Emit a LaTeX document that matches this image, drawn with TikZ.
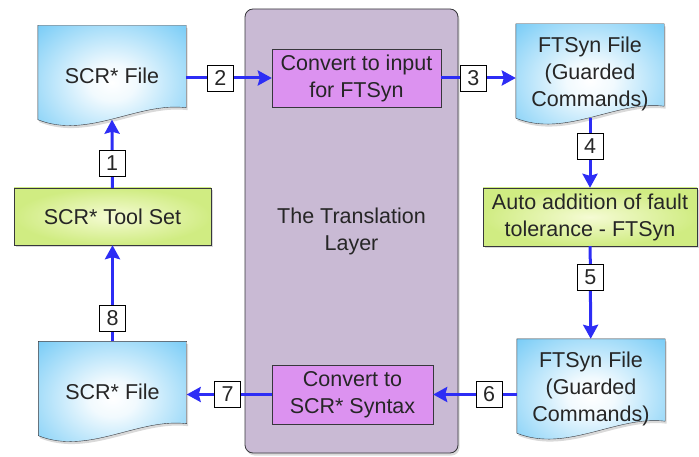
\documentclass[tikz,border=0pt]{standalone}
\usepackage{fontspec}
\setmainfont{Liberation Sans}
\usetikzlibrary{arrows.meta,calc,shadows}

\definecolor{docblue}{RGB}{118,203,246}
\definecolor{toolgreen}{RGB}{208,236,130}
\definecolor{toolpale}{RGB}{245,251,212}
\definecolor{layergrey}{RGB}{201,186,212}
\definecolor{convviolet}{RGB}{220,146,240}
\definecolor{flowblue}{RGB}{45,45,245}
\definecolor{rim}{RGB}{55,55,60}

\pgfdeclarelayer{background}
\pgfsetlayers{background,main}

% white centre fading out to blue at the sheet edges
\pgfdeclareradialshading{docglow}{\pgfpoint{0bp}{0bp}}{color(0bp)=(white); color(8bp)=(white!90!docblue); color(36bp)=(docblue); color(70bp)=(docblue)}

\tikzstyle{big text} = [font=\fontsize{21.5}{27}\selectfont, text=black!85]
\tikzstyle{soft shadow} = [drop shadow={opacity=0.3, shadow xshift=1.5pt, shadow yshift=-2.5pt}]
\tikzstyle{translayer} = [draw=rim, thick, fill=layergrey, rounded corners=8pt, minimum width=213pt, minimum height=444pt, align=center, big text, soft shadow]
\tikzstyle{convert} = [draw=rim, fill=convviolet, inner sep=0pt, align=center, big text]
\tikzstyle{toolbox} = [draw=rim, inner color=toolpale, outer color=toolgreen, inner sep=0pt, align=center, big text, soft shadow]
\tikzstyle{docnode} = [minimum width=148pt, minimum height=100pt, inner sep=0pt, align=center, big text]
\tikzstyle{docshape} = [draw=rim, thin, shading=docglow, shade, soft shadow]
\tikzstyle{flow} = [draw=flowblue, line width=3pt, -{Stealth[length=14pt, width=15pt, inset=2pt]}]
\tikzstyle{numtag} = [draw=black, fill=white, thin, minimum width=26pt, minimum height=26pt, inner sep=0pt, big text]

\begin{document}
\begin{tikzpicture}[x=1pt, y=-1pt]
    \useasboundingbox (0,0) rectangle (699,457);

    \node[translayer] (trans) at (351.5,231) {The Translation\\Layer};
    \node[convert, minimum width=169pt, minimum height=58pt] (convin) at (356.5,78) {Convert to input\\for FTSyn};
    \node[convert, minimum width=161pt, minimum height=59pt] (convsyn) at (352.5,394.5) {Convert to\\SCR* Syntax};
    \node[toolbox, minimum width=197pt, minimum height=57pt] (tool) at (112.5,216.5) {SCR* Tool Set};
    \node[toolbox, minimum width=214pt, minimum height=58pt] (auto) at (590,217) {Auto addition of fault\\tolerance - FTSyn};

    % files: text first, the wavy sheet goes underneath
    \foreach \pos/\name/\txt in {{(112,75.5)/scrtop/SCR* File}, {(590,74)/fttop/FTSyn File\\(Guarded\\Commands)}, {(112.5,391.5)/scrbot/SCR* File}, {(591,389)/ftbot/FTSyn File\\(Guarded\\Commands)}} {
        \node[docnode] (\name) at \pos {\txt};
    }
    \begin{pgfonlayer}{background}
        \foreach \name in {scrtop, fttop, scrbot, ftbot} {
            \path[docshape] (\name.north west) -- (\name.north east) -- ($(\name.south east)+(0,-18)$)
                .. controls ($(\name.south west)+(100,-24)$) and ($(\name.south west)+(50,14)$) .. ($(\name.south west)+(0,-6)$) -- cycle;
            \coordinate (\name-dip) at ($(\name.south)+(0,-6)$);
        }
    \end{pgfonlayer}

    \foreach \source/\sink/\num/\where in {{tool/scrtop-dip/1/0.36}, {scrtop.east |- convin/convin/2/0.4}, {convin/fttop.west |- convin/3/0.43}, {fttop-dip/auto/4/0.4}, {auto/ftbot/5/0.34}, {ftbot.west |- convsyn/convsyn/6/0.33}, {convsyn/scrbot.east |- convsyn/7/0.52}, {scrbot/tool/8/0.24}} {
        \path[flow] (\source) -- node[numtag, pos=\where] {\num} (\sink);
    }
\end{tikzpicture}
\end{document}
